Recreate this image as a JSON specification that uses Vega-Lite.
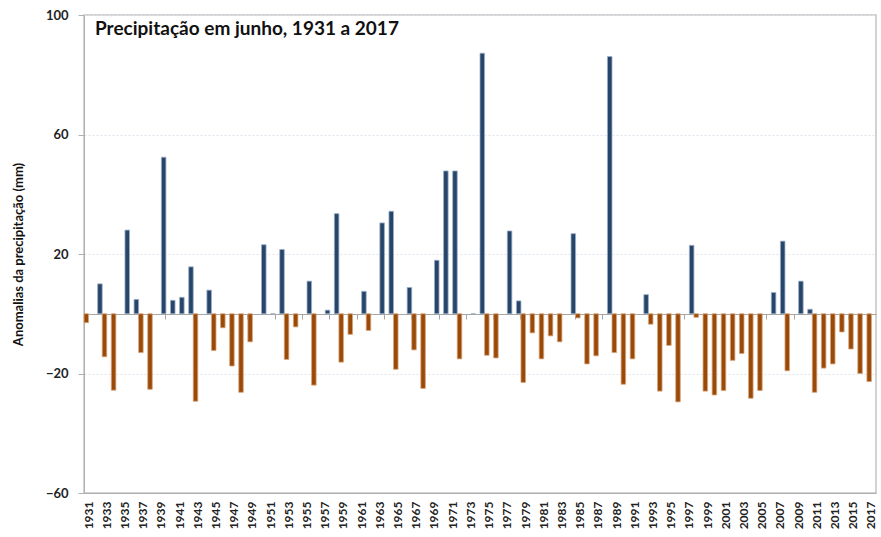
{
  "$schema": "https://vega.github.io/schema/vega-lite/v6.json",
  "width": 792,
  "height": 478,
  "autosize": {"type": "none"},
  "padding": {"left": 84, "top": 15, "right": 5, "bottom": 44},
  "background": "white",
  "config": {
    "font": "Lato",
    "view": {"stroke": "#c4c4c4", "strokeWidth": 1.5}
  },
  "title": {
    "text": "Precipitação em junho, 1931 a 2017",
    "anchor": "start",
    "frame": "group",
    "orient": "top",
    "offset": -30,
    "dx": 11,
    "font": "Lato",
    "fontSize": 19,
    "fontWeight": "bold",
    "color": "#111111"
  },
  "data": {
    "values": [
      {"year": 1931, "anomaly": -3, "series": "neg"},
      {"year": 1932, "anomaly": 10, "series": "pos"},
      {"year": 1933, "anomaly": -14.4, "series": "neg"},
      {"year": 1934, "anomaly": -25.6, "series": "neg"},
      {"year": 1935, "anomaly": 28, "series": "pos"},
      {"year": 1936, "anomaly": 4.8, "series": "pos"},
      {"year": 1937, "anomaly": -13, "series": "neg"},
      {"year": 1938, "anomaly": -25.3, "series": "neg"},
      {"year": 1939, "anomaly": 52.4, "series": "pos"},
      {"year": 1940, "anomaly": 4.5, "series": "pos"},
      {"year": 1941, "anomaly": 5.5, "series": "pos"},
      {"year": 1942, "anomaly": 15.7, "series": "pos"},
      {"year": 1943, "anomaly": -29.3, "series": "neg"},
      {"year": 1944, "anomaly": 7.9, "series": "pos"},
      {"year": 1945, "anomaly": -12.3, "series": "neg"},
      {"year": 1946, "anomaly": -4.7, "series": "neg"},
      {"year": 1947, "anomaly": -17.5, "series": "neg"},
      {"year": 1948, "anomaly": -26.3, "series": "neg"},
      {"year": 1949, "anomaly": -9.4, "series": "neg"},
      {"year": 1950, "anomaly": 23.1, "series": "pos"},
      {"year": 1951, "anomaly": 0, "series": "pos"},
      {"year": 1952, "anomaly": 21.5, "series": "pos"},
      {"year": 1953, "anomaly": -15.3, "series": "neg"},
      {"year": 1954, "anomaly": -4.4, "series": "neg"},
      {"year": 1955, "anomaly": 10.9, "series": "pos"},
      {"year": 1956, "anomaly": -23.9, "series": "neg"},
      {"year": 1957, "anomaly": 1.2, "series": "pos"},
      {"year": 1958, "anomaly": 33.5, "series": "pos"},
      {"year": 1959, "anomaly": -16.2, "series": "neg"},
      {"year": 1960, "anomaly": -6.9, "series": "neg"},
      {"year": 1961, "anomaly": 7.5, "series": "pos"},
      {"year": 1962, "anomaly": -5.6, "series": "neg"},
      {"year": 1963, "anomaly": 30.4, "series": "pos"},
      {"year": 1964, "anomaly": 34.3, "series": "pos"},
      {"year": 1965, "anomaly": -18.6, "series": "neg"},
      {"year": 1966, "anomaly": 8.8, "series": "pos"},
      {"year": 1967, "anomaly": -12.1, "series": "neg"},
      {"year": 1968, "anomaly": -25.0, "series": "neg"},
      {"year": 1969, "anomaly": 17.9, "series": "pos"},
      {"year": 1970, "anomaly": 47.8, "series": "pos"},
      {"year": 1971, "anomaly": 47.8, "series": "pos"},
      {"year": 1972, "anomaly": -15.1, "series": "neg"},
      {"year": 1973, "anomaly": 0, "series": "pos"},
      {"year": 1974, "anomaly": 87.2, "series": "pos"},
      {"year": 1975, "anomaly": -13.9, "series": "neg"},
      {"year": 1976, "anomaly": -14.8, "series": "neg"},
      {"year": 1977, "anomaly": 27.7, "series": "pos"},
      {"year": 1978, "anomaly": 4.3, "series": "pos"},
      {"year": 1979, "anomaly": -23.0, "series": "neg"},
      {"year": 1980, "anomaly": -6.4, "series": "neg"},
      {"year": 1981, "anomaly": -15.1, "series": "neg"},
      {"year": 1982, "anomaly": -7.4, "series": "neg"},
      {"year": 1983, "anomaly": -9.4, "series": "neg"},
      {"year": 1984, "anomaly": 26.8, "series": "pos"},
      {"year": 1985, "anomaly": -1.4, "series": "neg"},
      {"year": 1986, "anomaly": -16.8, "series": "neg"},
      {"year": 1987, "anomaly": -14.1, "series": "neg"},
      {"year": 1988, "anomaly": 86.1, "series": "pos"},
      {"year": 1989, "anomaly": -13, "series": "neg"},
      {"year": 1990, "anomaly": -23.6, "series": "neg"},
      {"year": 1991, "anomaly": -15.1, "series": "neg"},
      {"year": 1992, "anomaly": 6.4, "series": "pos"},
      {"year": 1993, "anomaly": -3.5, "series": "neg"},
      {"year": 1994, "anomaly": -25.9, "series": "neg"},
      {"year": 1995, "anomaly": -10.6, "series": "neg"},
      {"year": 1996, "anomaly": -29.5, "series": "neg"},
      {"year": 1997, "anomaly": 22.9, "series": "pos"},
      {"year": 1998, "anomaly": -1.2, "series": "neg"},
      {"year": 1999, "anomaly": -25.9, "series": "neg"},
      {"year": 2000, "anomaly": -27.2, "series": "neg"},
      {"year": 2001, "anomaly": -25.7, "series": "neg"},
      {"year": 2002, "anomaly": -15.6, "series": "neg"},
      {"year": 2003, "anomaly": -13.3, "series": "neg"},
      {"year": 2004, "anomaly": -28.3, "series": "neg"},
      {"year": 2005, "anomaly": -25.7, "series": "neg"},
      {"year": 2006, "anomaly": 7.1, "series": "pos"},
      {"year": 2007, "anomaly": 24.3, "series": "pos"},
      {"year": 2008, "anomaly": -19.1, "series": "neg"},
      {"year": 2009, "anomaly": 10.9, "series": "pos"},
      {"year": 2010, "anomaly": 1.5, "series": "pos"},
      {"year": 2011, "anomaly": -26.3, "series": "neg"},
      {"year": 2012, "anomaly": -18.2, "series": "neg"},
      {"year": 2013, "anomaly": -16.8, "series": "neg"},
      {"year": 2014, "anomaly": -6.1, "series": "neg"},
      {"year": 2015, "anomaly": -11.8, "series": "neg"},
      {"year": 2016, "anomaly": -20.0, "series": "neg"},
      {"year": 2017, "anomaly": -22.7, "series": "neg"}
    ]
  },
  "resolve": {"axis": {"x": "independent", "y": "independent"}},
  "layer": [
    {
      "mark": {"type": "bar", "opacity": 0},
      "encoding": {
        "x": {
          "field": "year",
          "type": "ordinal",
          "scale": {"paddingInner": 0, "paddingOuter": 0},
          "axis": {
            "orient": "bottom",
            "offset": -179,
            "labels": false,
            "title": null,
            "domain": true,
            "domainColor": "#a6a6a6",
            "domainWidth": 1.2,
            "ticks": true,
            "tickColor": "#a6a6a6",
            "tickSize": 5,
            "bandPosition": 0,
            "values": [1931, 1934, 1937, 1940, 1943, 1946, 1949, 1952, 1955, 1958, 1961, 1964, 1967, 1970, 1973, 1976, 1979, 1982, 1985, 1988, 1991, 1994, 1997, 2000, 2003, 2006, 2009, 2012, 2015],
            "grid": false
          }
        },
        "y": {
          "field": "anomaly",
          "type": "quantitative",
          "scale": {"domain": [-60, 100], "nice": false, "zero": false},
          "axis": {
            "orient": "left",
            "values": [-60, -20, 20, 60, 100],
            "grid": true,
            "gridColor": "#dfe6f0",
            "gridDash": [2, 2],
            "gridWidth": 1,
            "domain": false,
            "ticks": false,
            "labels": false,
            "title": null
          }
        }
      }
    },
    {
      "mark": {"type": "bar", "strokeWidth": 0.8},
      "encoding": {
        "x": {
          "field": "year",
          "type": "ordinal",
          "axis": {
            "orient": "bottom",
            "title": null,
            "labelAngle": 270,
            "labelExpr": "datum.value % 2 == 1 ? datum.label : ''",
            "labelFont": "Lato",
            "labelFontSize": 12,
            "labelFontWeight": "bold",
            "labelColor": "#222222",
            "labelPadding": 8,
            "ticks": false,
            "domain": true,
            "domainColor": "#b0b0b0",
            "grid": false
          }
        },
        "xOffset": {
          "field": "series",
          "type": "nominal",
          "scale": {"domain": ["neg", "pos"], "paddingInner": 0, "paddingOuter": 0}
        },
        "y": {
          "field": "anomaly",
          "type": "quantitative",
          "axis": {
            "orient": "left",
            "values": [-60, -20, 20, 60, 100],
            "grid": false,
            "domain": true,
            "domainColor": "#b0b0b0",
            "ticks": true,
            "tickSize": 6,
            "tickColor": "#b0b0b0",
            "labelFont": "Lato",
            "labelFontSize": 13,
            "labelFontWeight": "bold",
            "labelColor": "#222222",
            "labelPadding": 10,
            "title": "Anomalias da precipitação (mm)",
            "titleFont": "Lato",
            "titleFontSize": 13,
            "titleFontWeight": "bold",
            "titleColor": "#111111",
            "titlePadding": 20
          }
        },
        "color": {
          "field": "series",
          "type": "nominal",
          "scale": {"domain": ["neg", "pos"], "range": ["#9a4a08", "#27446a"]},
          "legend": null
        },
        "stroke": {
          "field": "series",
          "type": "nominal",
          "scale": {"domain": ["neg", "pos"], "range": ["#d9a67c", "#9aaec6"]},
          "legend": null
        }
      }
    }
  ]
}
